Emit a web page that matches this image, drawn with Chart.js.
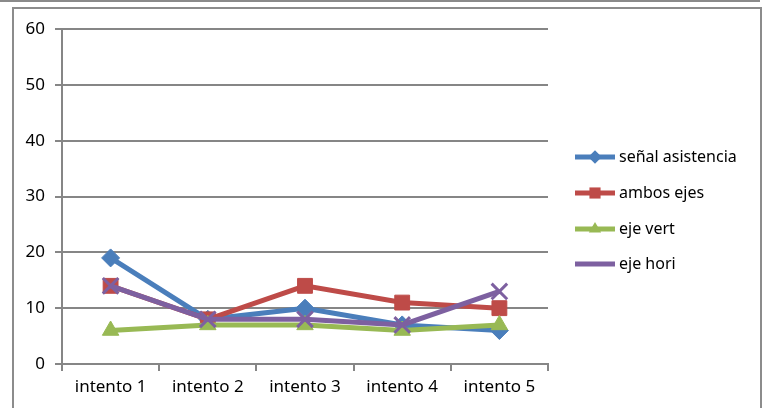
<!DOCTYPE html>
<html>
<head>
<meta charset="utf-8">
<script src="https://cdn.jsdelivr.net/npm/chart.js@4/dist/chart.umd.min.js"></script>
<style>
  body { margin: 0; background: #fff; }
  #topline { position: absolute; left: 0; top: 0; width: 760px; height: 2px; background: #8a8a8a; }
  #frame { position: absolute; left: 12px; top: 7px; width: 746px; height: 420px; border: 2px solid #8c8c8c; }
  #wrap { position: absolute; left: 0; top: 0; width: 762px; height: 408px; }
</style>
</head>
<body>
<div id="topline"></div>
<div id="frame"></div>
<div id="wrap"><canvas id="chart"></canvas></div>
<script>
const categories = ["intento 1", "intento 2", "intento 3", "intento 4", "intento 5"];
const senalAsistencia = [19, 8, 10, 7, 6];
const ambosEjes = [14, 8, 14, 11, 10];
const ejeVert = [6, 7, 7, 6, 7];
const ejeHori = [14, 8, 8, 7, 13];
const yTicks = [0, 10, 20, 30, 40, 50, 60];

const FONT = "'Noto Sans', sans-serif";
const GRID = "#868686";

const series = [
  { label: "señal asistencia", data: senalAsistencia, color: "#4a7ebb", point: "rectRot", radius: 9, order: 3 },
  { label: "ambos ejes", data: ambosEjes, color: "#be4b48", point: "rect", radius: 10.5, order: 2 },
  { label: "eje vert", data: ejeVert, color: "#98b954", point: "triangle", radius: 9.5, order: 1 },
  { label: "eje hori", data: ejeHori, color: "#7d60a0", point: "crossRot", radius: 11, order: 0 },
];

// legend: line with marker in the middle, like an office chart
const sideLegend = {
  id: "sideLegend",
  afterDraw(chart) {
    const ctx = chart.ctx;
    const x0 = 575, x1 = 615, rowY = [157, 193, 229, 264];
    ctx.save();
    chart.data.datasets.forEach((ds, i) => {
      const y = rowY[i];
      ctx.strokeStyle = ds.borderColor;
      ctx.lineWidth = 5;
      ctx.beginPath();
      ctx.moveTo(x0, y);
      ctx.lineTo(x1, y);
      ctx.stroke();
      ctx.fillStyle = ds.backgroundColor;
      ctx.lineWidth = ds.pointBorderWidth;
      Chart.helpers.drawPoint(ctx, { pointStyle: ds.pointStyle, radius: ds.pointRadius * 0.75, rotation: 0 }, (x0 + x1) / 2, y);
      ctx.fillStyle = "#000";
      ctx.font = "16px " + FONT;
      ctx.textBaseline = "middle";
      ctx.fillText(ds.label, 619, y);
    });
    ctx.restore();
  }
};

new Chart(document.getElementById("chart"), {
  type: "line",
  data: {
    labels: categories,
    datasets: series.map(s => ({
      label: s.label,
      data: s.data,
      borderColor: s.color,
      backgroundColor: s.color,
      borderWidth: 5,
      pointStyle: s.point,
      pointRadius: s.radius,
      pointBorderWidth: s.point === "crossRot" ? 3 : 1,
      pointBorderColor: s.color,
      pointBackgroundColor: s.color,
      tension: 0,
      order: s.order,
    })),
  },
  options: {
    responsive: true,
    maintainAspectRatio: false,
    animation: false,
    layout: { padding: { left: 0, right: 214, top: 29, bottom: 0 } },
    plugins: { legend: { display: false }, tooltip: { enabled: false } },
    scales: {
      x: {
        offset: true,
        grid: { display: true, drawOnChartArea: false, drawTicks: true, tickLength: 7, color: GRID, lineWidth: 2, offset: true },
        border: { color: GRID, width: 2 },
        ticks: { color: "#000", font: { family: FONT, size: 17 }, padding: 6 },
        afterFit(scale) { scale.height = 44; },
      },
      y: {
        min: 0,
        max: 60,
        afterBuildTicks(scale) { scale.ticks = yTicks.map(v => ({ value: v })); },
        grid: { color: GRID, lineWidth: 2, tickLength: 7 },
        border: { color: GRID, width: 2 },
        ticks: { color: "#000", font: { family: FONT, size: 17 }, padding: 10 },
        afterFit(scale) { scale.width = 62; },
      },
    },
  },
  plugins: [sideLegend],
});
</script>
</body>
</html>
